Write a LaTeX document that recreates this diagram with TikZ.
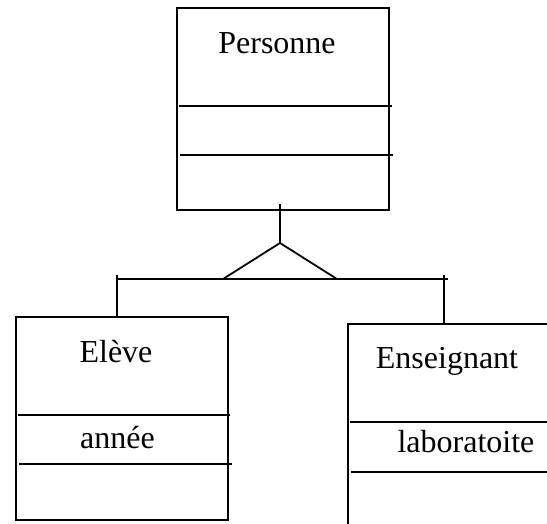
\documentclass[tikz,border=0pt]{standalone}
\usepackage{fontspec}
\setmainfont{Liberation Serif}
\begin{document}
\begin{tikzpicture}[x=1pt,y=-1pt,
  classbox/.style={draw, line width=1.8pt, inner sep=0pt, anchor=north west},
  sepline/.style={line width=1.6pt},
  link/.style={line width=1.8pt},
  classtext/.style={font=\fontsize{32}{38}\selectfont, anchor=base, inner sep=0pt}]
\useasboundingbox (0,0) rectangle (547,523);
\clip (0,0) rectangle (547,523);

% class boxes
\node[classbox, minimum width=212pt, minimum height=202pt] (personne) at (176,7) {};
\node[classbox, minimum width=212pt, minimum height=203pt] (eleve) at (15,316) {};
\node[classbox, minimum width=260pt, minimum height=260pt] (enseignant) at (347,323) {};

% class names and attributes
\node[classtext] (tpersonne) at (277,53) {Personne};
\node[classtext] (televe) at (116,362) {Elève};
\node[classtext] (tannee) at (117.5,448) {année};
\node[classtext] (tenseignant) at (447,368) {Enseignant};
\node[classtext] (tlabo) at (466,452) {laboratoite};

% compartment separators
\draw[sepline] (179,106) -- (392,106);
\draw[sepline] (180,155) -- (393,155);
\draw[sepline] (18,415) -- (230,415);
\draw[sepline] (19,464) -- (232,464);
\draw[sepline] (350,422) -- (547,422);
\draw[sepline] (351,472) -- (547,472);

% generalisation symbol
\coordinate (stemtop) at (280,204);
\coordinate (apex) at (280,243);
\coordinate (tl) at (223,279);
\coordinate (tr) at (337,279);
\coordinate (barL) at (116,279);
\coordinate (barR) at (448,279);
\coordinate (dropL) at (117,275);
\coordinate (dropR) at (444,275);

\draw[link] (stemtop) -- (apex);
\draw[link] (tl) -- (apex) -- (tr);
\draw[link] (barL) -- (barR);
\draw[link] (dropL) -- (dropL |- eleve.north);
\draw[link] (dropR) -- (dropR |- enseignant.north);
\end{tikzpicture}
\end{document}
